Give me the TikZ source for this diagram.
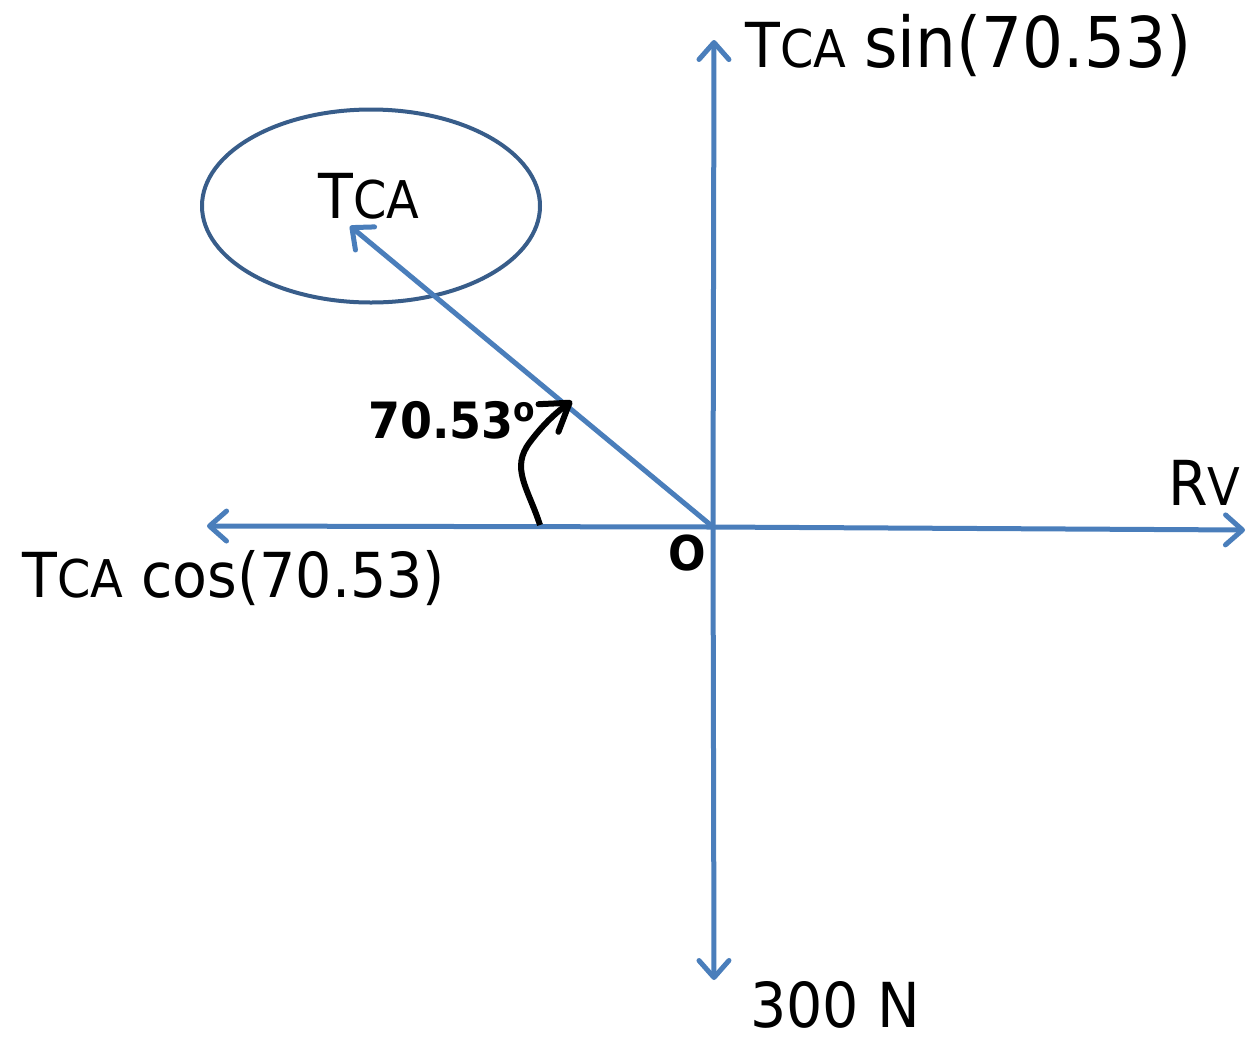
\documentclass[tikz,border=0pt]{standalone}
\usepackage{fontspec}
\setmainfont[FakeStretch=0.92]{DejaVu Sans}
\usetikzlibrary{arrows.meta,shapes.geometric}
\definecolor{vecblue}{HTML}{4A7EBB}
\definecolor{ringblue}{HTML}{385D8A}
\tikzset{vec/.style={vecblue,line width=5pt,-{Straight Barb[length=17pt,width=30pt,round]}},
  lbl/.style={anchor=base west,inner sep=0pt,font=\fontsize{62}{68}\selectfont}}
\newcommand{\smallcap}[1]{{\fontsize{52}{56}\selectfont #1}}
\newcommand{\bigfn}[1]{{\fontsize{70}{76}\selectfont #1}}
\begin{document}
\begin{tikzpicture}[x=1pt,y=-1pt]
\useasboundingbox(0,0) rectangle (1249,1037);
\coordinate (O) at (713,527);
\coordinate (top) at (714,40);
\coordinate (bot) at (714,980);
\coordinate (left) at (207,526);
\coordinate (right) at (1245,530);
\coordinate (tip) at (350,226);
\coordinate (base) at (540,525);
\coordinate (arc) at (572,401);
% force vectors
\node[ellipse,draw=ringblue,line width=4pt,minimum width=338pt,minimum height=193pt] (tca) at (371,206) {};
\draw[vec](O)--(top);
\draw[vec](O)--(bot);
\draw[vec](O)--(left);
\draw[vec](O)--(right);
\draw[vec](O)--(tip);
% angle
\draw[line width=6pt,-{Straight Barb[length=26pt,width=34pt,round]}](base) .. controls (528,488) and (510,468) .. (530,442) .. controls (542,426) and (554,414) .. (arc);
% labels
\node[lbl] (sinlbl) at (745,67) {T\smallcap{CA} \bigfn{sin(70.53)}};
\node[lbl] (tcalbl) at (318,218) {T\smallcap{CA}};
\node[lbl] (coslbl) at (22,597) {T\smallcap{CA} cos(70.53)};
\node[lbl] (rvlbl) at (1168,505) {R\smallcap{V}};
\node[lbl] (loadlbl) at (750,1027) {300 N};
\node[anchor=base west,inner sep=0pt,font=\fontsize{50}{56}\selectfont\bfseries] (anglbl) at (368,438) {70.53\raisebox{17pt}{\fontsize{34}{36}\selectfont o}};
\node[inner sep=0pt,font=\fontsize{48}{52}\selectfont\bfseries] (olbl) at (687,553) {O};
\end{tikzpicture}
\end{document}
